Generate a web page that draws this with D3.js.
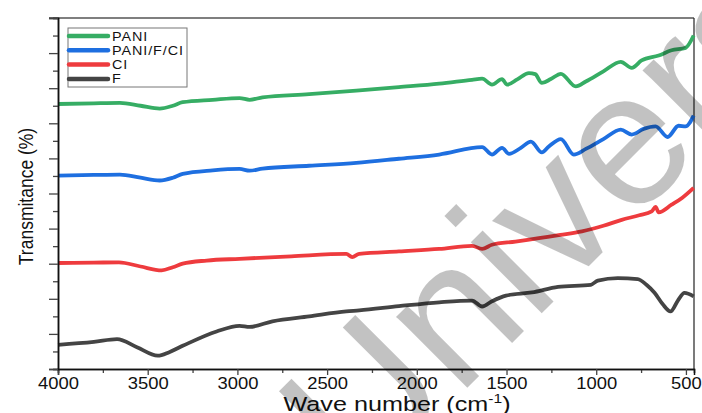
<!DOCTYPE html>
<html>
<head>
<meta charset="utf-8">
<script src="https://cdn.jsdelivr.net/npm/d3@7"></script>
<style>
  body { margin: 0; background: #fff; }
  text { font-family: "Liberation Sans", Arial, sans-serif; }
</style>
</head>
<body>
<div id="container"></div>
<script>
const WIDTH = 702;
const HEIGHT = 413;
const MARGIN = { top: 18, right: 8, bottom: 44, left: 58 };
const INNER_WIDTH = WIDTH - MARGIN.left - MARGIN.right;
const INNER_HEIGHT = HEIGHT - MARGIN.top - MARGIN.bottom;
const STRETCH = 1.15; // the source image is a bit wider than tall

// Data: [wave number, transmittance (offset, arbitrary units)]
const seriesNames = ['PANI', 'PANI/F/CI', 'CI', 'F'];
const seriesColors = ['#36ad64', '#1e6fe0', '#ee3b3e', '#444444'];
const xTicks = [4000, 3500, 3000, 2500, 2000, 1500, 1000, 500];

const pani = [
  [4000, 7.55], [3800, 7.57], [3655, 7.58], [3540, 7.50], [3433, 7.42], [3360, 7.50], [3305, 7.60],
  [3138, 7.67], [2988, 7.72], [2932, 7.67], [2860, 7.74], [2600, 7.83], [2337, 7.93], [2100, 8.03],
  [1875, 8.13], [1692, 8.24], [1636, 8.27], [1581, 8.10], [1525, 8.26], [1497, 8.10], [1440, 8.25],
  [1375, 8.43], [1340, 8.40], [1303, 8.15], [1253, 8.26], [1197, 8.41], [1114, 8.05], [1058, 8.19],
  [960, 8.48], [863, 8.75], [802, 8.58], [747, 8.79], [652, 8.93], [580, 9.08], [502, 9.15], [457, 9.50]
];
const paniFCi = [
  [4000, 5.51], [3800, 5.53], [3655, 5.54], [3540, 5.45], [3433, 5.37], [3360, 5.45], [3305, 5.56],
  [3138, 5.66], [2988, 5.70], [2932, 5.65], [2860, 5.71], [2600, 5.79], [2337, 5.87], [2100, 5.99],
  [1875, 6.11], [1636, 6.32], [1581, 6.11], [1525, 6.30], [1486, 6.13], [1420, 6.30], [1364, 6.48],
  [1303, 6.17], [1264, 6.34], [1197, 6.55], [1125, 6.11], [1058, 6.27], [960, 6.55], [863, 6.82],
  [802, 6.68], [736, 6.84], [669, 6.91], [602, 6.61], [541, 6.93], [502, 6.91], [457, 7.22]
];
const ci = [
  [4000, 3.02], [3800, 3.03], [3660, 3.04], [3540, 2.92], [3422, 2.81], [3360, 2.90], [3305, 3.00],
  [3171, 3.09], [2988, 3.14], [2700, 3.21], [2393, 3.28], [2360, 3.19], [2321, 3.28], [2100, 3.35],
  [1875, 3.42], [1692, 3.51], [1636, 3.42], [1581, 3.54], [1450, 3.63], [1320, 3.73], [1200, 3.82],
  [1080, 3.92], [960, 4.08], [858, 4.25], [760, 4.38], [691, 4.49], [669, 4.62], [652, 4.46],
  [580, 4.68], [520, 4.88], [457, 5.16]
];
const f = [
  [4000, 0.69], [3800, 0.77], [3671, 0.85], [3560, 0.62], [3444, 0.38], [3380, 0.48], [3305, 0.66],
  [3116, 1.07], [2988, 1.23], [2932, 1.20], [2805, 1.36], [2600, 1.50], [2393, 1.64], [2321, 1.67],
  [2100, 1.79], [1875, 1.90], [1692, 1.95], [1636, 1.78], [1581, 1.93], [1503, 2.09], [1358, 2.18],
  [1213, 2.34], [1030, 2.40], [991, 2.52], [880, 2.59], [769, 2.56], [720, 2.40], [675, 2.17],
  [630, 1.85], [586, 1.64], [545, 1.95], [508, 2.17], [457, 2.07]
];
const seriesData = [pani, paniFCi, ci, f];

const svg = d3.select('#container').append('svg')
    .attr('width', WIDTH)
    .attr('height', HEIGHT);
const g = svg.append('g')
    .attr('transform', 'translate(' + MARGIN.left + ',' + MARGIN.top + ')');

// Scales and axes
const x = d3.scaleLinear().domain([4000, 455]).range([0, INNER_WIDTH]);
const y = d3.scaleLinear().domain([0, 10]).range([INNER_HEIGHT, 0]);

const xAxis = d3.axisBottom(x).tickValues(xTicks).tickSize(6).tickFormat(d3.format('d'));
const xMinor = d3.axisBottom(x).tickValues(d3.range(3750, 455, -500)).tickSize(4).tickFormat('');
const yAxis = d3.axisLeft(y).tickValues(d3.range(0, 10.01, 1)).tickSize(9).tickFormat('');
const yMinor = d3.axisLeft(y).tickValues(d3.range(0.5, 10, 1)).tickSize(5).tickFormat('');

// Frame (top and right)
g.append('line').attr('x1', -9).attr('x2', INNER_WIDTH).attr('y1', 0).attr('y2', 0)
    .attr('stroke', '#555').attr('stroke-width', 1.5);
g.append('line').attr('x1', INNER_WIDTH).attr('x2', INNER_WIDTH).attr('y1', 0).attr('y2', INNER_HEIGHT)
    .attr('stroke', '#222').attr('stroke-width', 1.2);

// Curves
const line = d3.line()
    .x(d => x(d[0]))
    .y(d => y(d[1]))
    .curve(d3.curveMonotoneX);
seriesData.forEach((data, i) => {
  g.append('path')
      .datum(data)
      .attr('fill', 'none')
      .attr('stroke', seriesColors[i])
      .attr('stroke-width', 3.8)
      .attr('stroke-linejoin', 'round')
      .attr('d', line);
});

// Axes
function styleAxis(sel) {
  sel.select('.domain').attr('stroke', '#111').attr('stroke-width', 1.5);
  sel.selectAll('.tick line').attr('stroke', '#444').attr('stroke-width', 1.3);
  sel.selectAll('.tick text').attr('fill', '#111').style('font-size', '16px')
      .style('font-family', '"Liberation Sans", Arial, sans-serif');
}
g.append('g').attr('transform', 'translate(0,' + INNER_HEIGHT + ')').call(xMinor).call(styleAxis);
g.append('g').attr('transform', 'translate(0,' + INNER_HEIGHT + ')').call(xAxis).call(styleAxis)
    .selectAll('.tick text')
    .attr('y', 0).attr('dy', 0)
    .attr('transform', 'translate(0,20) scale(' + STRETCH + ',1)');
g.append('g').call(yMinor).call(styleAxis);
g.append('g').call(yAxis).call(styleAxis);

// Axis titles
const xTitle = svg.append('g').attr('transform', 'translate(397,411) scale(1.2,1)')
    .append('text')
    .attr('text-anchor', 'middle')
    .style('font-size', '21px').attr('fill', '#111');
xTitle.append('tspan').text('Wave number (cm');
xTitle.append('tspan').text('-1').attr('dy', -8).style('font-size', '13px');
xTitle.append('tspan').text(')').attr('dy', 8);

svg.append('text')
    .attr('transform', 'translate(33,' + (MARGIN.top + INNER_HEIGHT / 2 + 3) + ') scale(' + STRETCH + ',1) rotate(-90)')
    .attr('text-anchor', 'middle')
    .style('font-size', '17.5px').attr('fill', '#111')
    .text('Transmitance (%)');

// Legend
const legend = svg.append('g').attr('transform', 'translate(68,28)');
legend.append('rect').attr('width', 119).attr('height', 59)
    .attr('fill', '#fff').attr('stroke', '#777').attr('stroke-width', 1);
seriesNames.forEach((name, i) => {
  const ly = 8 + i * 14.3;
  legend.append('line').attr('x1', 1).attr('x2', 40).attr('y1', ly).attr('y2', ly)
      .attr('stroke', seriesColors[i]).attr('stroke-width', 4.5).attr('stroke-linecap', 'round');
  legend.append('g').attr('transform', 'translate(44,' + (ly + 4.5) + ') scale(' + STRETCH + ',1)')
      .append('text')
      .style('font-size', '12.5px').style('letter-spacing', '0.8px')
      .attr('fill', '#111').text(name);
});

// Watermark
svg.append('text')
    .attr('transform', 'translate(361,494) rotate(-45)')
    .style('font-size', '190px')
    .attr('fill', '#000').attr('fill-opacity', 0.24)
    .text('University');
</script>
</body>
</html>
